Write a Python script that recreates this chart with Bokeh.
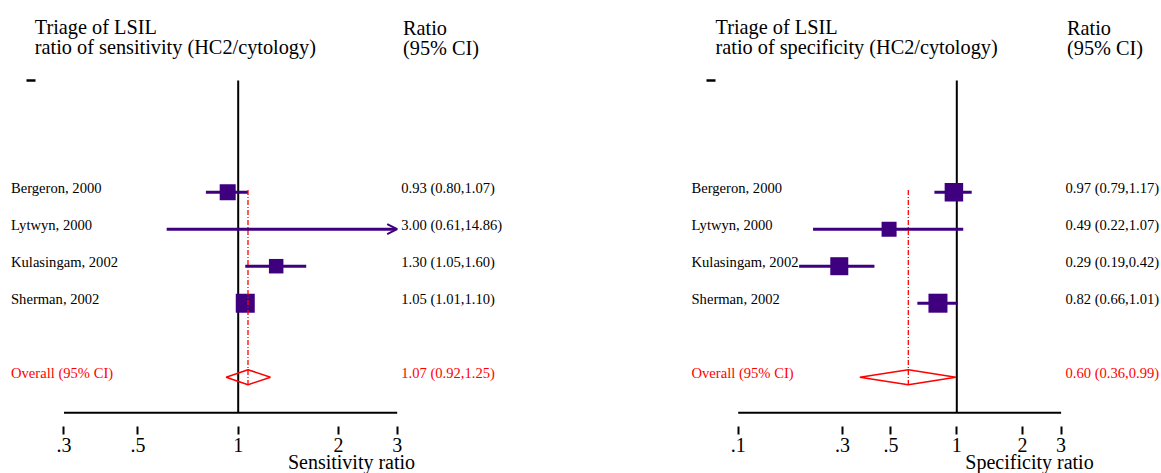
import math
from bokeh.plotting import figure
from bokeh.layouts import row
from bokeh.models import (Range1d, FixedTicker, CustomJSTickFormatter,
                          Arrow, OpenHead, ColumnDataSource)
from bokeh.core.properties import value
from bokeh.embed import file_html
from bokeh.resources import INLINE

# ---------------- data ----------------
studies = ["Bergeron, 2000", "Lytwyn, 2000", "Kulasingam, 2002", "Sherman, 2002"]
study_rows = [1, 2, 3, 4]
overall_row = 6
overall_label = "Overall (95% CI)"

sens_est = [0.93, 3.00, 1.30, 1.05]
sens_lo = [0.80, 0.61, 1.05, 1.01]
sens_hi = [1.07, 14.86, 1.60, 1.10]
sens_weight_box = [16, 14, 14.5, 19]
sens_overall = [1.07, 0.92, 1.25]   # estimate, lower, upper
sens_ticks = [0.3, 0.5, 1, 2, 3]

spec_est = [0.97, 0.49, 0.29, 0.82]
spec_lo = [0.79, 0.22, 0.19, 0.66]
spec_hi = [1.17, 1.07, 0.42, 1.01]
spec_weight_box = [18.5, 15, 18, 19]
spec_overall = [0.60, 0.36, 0.99]
spec_ticks = [0.1, 0.3, 0.5, 1, 2, 3]

# ---------------- style ----------------
FONT = value("Liberation Serif")
PURPLE = "#3f007f"
RED = "#ff0000"
BLACK = "#000000"

ROW0, ROW_H = 191.7, 37.0          # page y of row 1, row spacing (px)
FIG_H = 473
SMALL, BIG, TITLE = 14.6, 20.3, 20.0
BASE_SHIFT = 0.3                    # em, correction for the renderer's baseline


def yrow(py):
    return 1 + (py - ROW0) / ROW_H


def fmt(e, l, h):
    return "%.2f (%.2f,%.2f)" % (e, l, h)


def make_panel(page_left, width, anchor_px, ppd, ticks, est, lo, hi, box, overall,
               head2, axis_title, label_px, value_px, header_px, ratio_px,
               dash_px, title_cx):
    def xmap(px):
        return 10 ** ((px - anchor_px) / ppd)

    amin, amax = min(ticks), max(ticks)
    p = figure(width=width, height=FIG_H, x_axis_type="log",
               x_range=Range1d(xmap(page_left), xmap(page_left + width)),
               y_range=Range1d(yrow(FIG_H), yrow(0)),
               output_backend="svg", toolbar_location=None,
               y_axis_location=None, min_border_left=0, min_border_right=0,
               min_border_top=0, min_border_bottom=0)
    p.outline_line_color = None
    p.xgrid.visible = False
    p.ygrid.visible = False
    p.background_fill_color = "white"
    p.border_fill_color = "white"

    ax = p.xaxis[0]
    ax.fixed_location = yrow(426)
    ax.ticker = FixedTicker(ticks=ticks, minor_ticks=[])
    ax.formatter = CustomJSTickFormatter(
        code="var s = String(tick); return tick < 1 ? s.replace(/^0/, '') : s;")
    ax.axis_line_color = None
    ax.major_tick_in = 0
    ax.major_tick_out = 8
    ax.major_tick_line_width = 2
    ax.major_tick_line_color = BLACK
    ax.minor_tick_line_color = None
    ax.major_label_standoff = 3
    ax.major_label_text_font = "Liberation Serif"
    ax.major_label_text_font_size = "20px"
    ax.major_label_text_color = BLACK

    y_axis = yrow(412.3)
    # axis line and null line
    p.segment(x0=[amin], y0=[y_axis], x1=[amax], y1=[y_axis], line_color=BLACK, line_width=2)
    p.segment(x0=[1], y0=[yrow(80)], x1=[1], y1=[y_axis], line_color=BLACK, line_width=2)
    # small stray mark at top left
    p.segment(x0=[xmap(dash_px[0])], y0=[yrow(80)], x1=[xmap(dash_px[1])], y1=[yrow(80)],
              line_color=BLACK, line_width=2.5)

    # confidence intervals
    seg_x0, seg_x1, seg_y = [], [], []
    for e, l, h, r in zip(est, lo, hi, study_rows):
        x0 = max(l, amin)
        x1 = min(h, amax)
        if h > amax:
            p.add_layout(Arrow(end=OpenHead(size=10, line_color=PURPLE, line_width=2),
                               x_start=x0, y_start=r, x_end=x1, y_end=r,
                               line_color=PURPLE, line_width=3))
        else:
            seg_x0.append(x0)
            seg_x1.append(x1)
            seg_y.append(r)
    p.segment(x0=seg_x0, y0=seg_y, x1=seg_x1, y1=seg_y, line_color=PURPLE, line_width=3)

    # weighted boxes (only for estimates inside the axis range)
    bx = [e for e in est if amin < e < amax]
    by = [r for e, r in zip(est, study_rows) if amin < e < amax]
    bs = [s for e, s in zip(est, box) if amin < e < amax]
    p.scatter(x=bx, y=by, size=bs, marker="square", fill_color=PURPLE, line_color=None)

    # overall diamond and dashed line
    oe, ol, oh = overall
    half = 7.5 / ROW_H
    p.segment(x0=[oe], y0=[yrow(189.5)], x1=[oe], y1=[overall_row + half],
              line_color=RED, line_width=1.3, line_dash="5 2 1 2")
    p.patch(x=[ol, oe, oh, oe], y=[overall_row, overall_row - half, overall_row, overall_row + half],
            fill_color=None, line_color=RED, line_width=1.5)

    # study labels and values (baseline on the row line)
    dy = BASE_SHIFT * SMALL / ROW_H
    lbl_y = [r - dy for r in study_rows + [overall_row]]
    lbl_col = [BLACK] * len(studies) + [RED]
    src = ColumnDataSource(dict(
        lx=[xmap(label_px)] * (len(studies) + 1), vx=[xmap(value_px)] * (len(studies) + 1),
        y=lbl_y, name=studies + [overall_label],
        val=[fmt(e, l, h) for e, l, h in zip(est, lo, hi)] + [fmt(oe, ol, oh)],
        col=lbl_col))
    p.text(x="lx", y="y", text="name", source=src, text_color="col", text_font=FONT,
           text_font_size="%spx" % SMALL, text_align="left", text_baseline="alphabetic")
    p.text(x="vx", y="y", text="val", source=src, text_color="col", text_font=FONT,
           text_font_size="%spx" % SMALL, text_align="left", text_baseline="alphabetic")

    # headers
    sh = BASE_SHIFT * BIG
    p.text(x=[xmap(header_px)] * 2, y=[yrow(32.3 - sh), yrow(52.3 - sh)],
           text=["Triage of LSIL", head2], text_font=FONT, text_font_size="%spx" % BIG,
           text_color=BLACK, text_align="left", text_baseline="alphabetic")
    p.text(x=[xmap(ratio_px)] * 2, y=[yrow(33.3 - sh), yrow(53.3 - sh)],
           text=["Ratio", "(95% CI)"], text_font=FONT, text_font_size="%spx" % BIG,
           text_color=BLACK, text_align="left", text_baseline="alphabetic")

    # axis title
    p.text(x=[xmap(title_cx)], y=[yrow(467 - BASE_SHIFT * TITLE)], text=[axis_title],
           text_font=FONT, text_font_size="%spx" % TITLE, text_color=BLACK,
           text_align="center", text_baseline="alphabetic")
    return p


left = make_panel(0, 588, 237.7, 333.2, sens_ticks, sens_est, sens_lo, sens_hi,
                  sens_weight_box, sens_overall,
                  "ratio of sensitivity (HC2/cytology)", "Sensitivity ratio",
                  10.5, 400.7, 34.3, 402.5, (26, 35), 351)
right = make_panel(588, 573, 956.3, 218.6, spec_ticks, spec_est, spec_lo, spec_hi,
                   spec_weight_box, spec_overall,
                   "ratio of specificity (HC2/cytology)", "Specificity ratio",
                   691, 1065, 715, 1066.5, (706, 715), 1029)

layout = row(left, right, spacing=0)
open("out.html", "w").write(file_html(layout, INLINE))
